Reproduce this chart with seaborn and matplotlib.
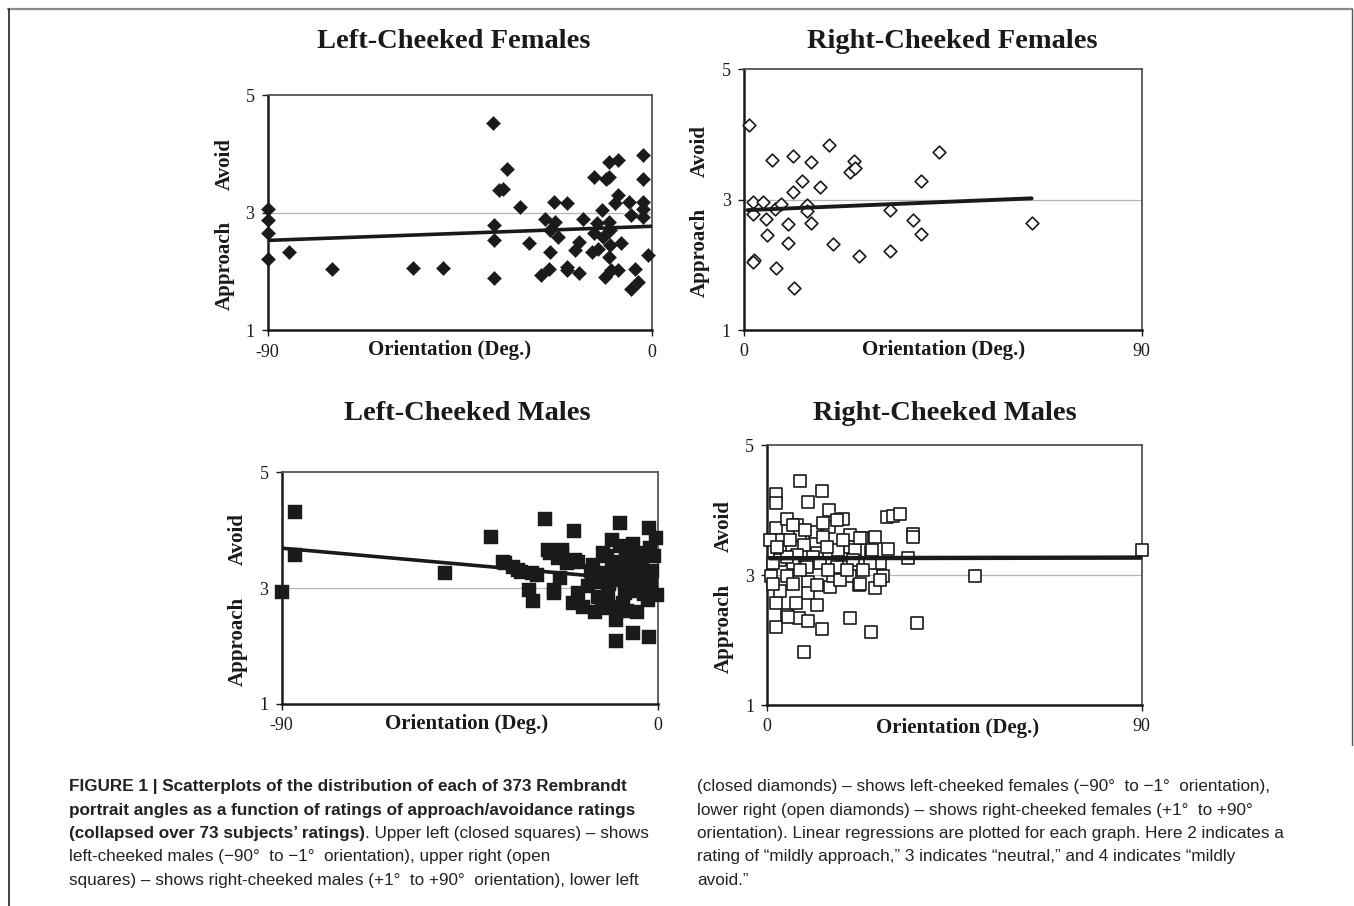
import numpy as np
import pandas as pd
import matplotlib
matplotlib.use("Agg")
import matplotlib.pyplot as plt
import seaborn as sns
from matplotlib.lines import Line2D
from matplotlib import font_manager

# ---------------- data ----------------
# Left-cheeked females (closed diamonds)
lf_x = [-90, -90, -90, -90, -85, -74.9, -55.9, -49, -37.1, -37, -37, -37, -34, -35.9, -34.8,
        -30.9, -28.75, -26, -25, -24, -23.8, -23, -22.6, -23.8, -21.9, -19.9, -19.9, -19.9,
        -18, -17, -17, -16, -13.6, -13.6, -14, -12.9, -12.5, -11.7, -11.3, -10.9, -10.1,
        -10.6, -9.9, -9.9, -10.1, -9.7, -9.7, -9.5, -8, -8, -8.6, -8, -7.2, -5.3, -4.9, -4.9,
        -4, -3.1, -2, -2, -2, -2, -2, -0.9]
lf_y = [3.07, 2.87, 2.66, 2.21, 2.33, 2.05, 2.06, 2.06, 4.53, 2.79, 2.54, 1.89, 3.75, 3.38, 3.41,
        3.10, 2.48, 1.95, 2.90, 2.05, 2.33, 3.18, 2.84, 2.70, 2.59, 3.16, 2.08, 2.02,
        2.36, 2.50, 1.98, 2.90, 3.61, 2.65, 2.33, 2.82, 2.39, 3.04, 2.59, 1.91, 3.87,
        3.58, 3.61, 2.84, 2.25, 2.45, 2.70, 2.02, 3.89, 3.30, 3.16, 2.02, 2.48, 3.18, 2.96, 1.71,
        2.05, 1.82, 3.98, 3.58, 3.18, 3.07, 2.93, 2.28]
lf_fit_x = [-90, 0]
lf_fit_y = [2.53, 2.77]

# Right-cheeked females (open diamonds)
rf_x = [1.1, 2.0, 2.1, 4.2, 2.3, 2.1, 5.0, 5.1, 6.3, 7.0, 7.2, 8.3, 10.0, 10.0, 11.2, 11.2, 11.3,
        13.2, 14.2, 14.2, 15.2, 15.2, 17.2, 19.2, 20.1, 24.0, 25.0, 25.1, 26.1, 33.0, 33.0,
        38.2, 40.0, 40.0, 44.2, 65.1]
rf_y = [4.14, 2.96, 2.78, 2.97, 2.07, 2.04, 2.71, 2.46, 3.61, 2.86, 1.96, 2.94, 2.62, 2.33, 3.67,
        3.11, 1.65, 3.29, 2.92, 2.82, 3.58, 2.65, 3.19, 3.83, 2.32, 3.43, 3.59, 3.48, 2.13,
        2.84, 2.21, 2.69, 3.29, 2.48, 3.73, 2.64]
rf_fit_x = [0.8, 65.1]
rf_fit_y = [2.84, 3.02]

# Left-cheeked males (closed squares)
lm_x = [-90, -86.8, -86.8, -51, -40.1, -37, -34.8, -32.7, -31, -30, -28.9, -27.1, -26, -25, -23.9,
        -23.1, -23.5, -21.9, -20.2, -20.3, -19.1, -19.1, -17.9, -16.7, -15.1, -15.5, -14.3, -13.1,
        -12.7, -11.9, -11.1, -10.8, -10.4, -10, -10.2, -9.2, -9.2, -8.8, -8, -7.6, -6.4, -6, -6.1,
        -5.6, -5.2, -4.6, -3.7, -2.9, -2.5, -2.3, -2.3, -2.1, -1.7, -0.6, -0.4,
        -16, -14, -12, -11, -9.5, -8.5, -7, -6.8, -5, -4, -3.5, -1.5, -1, -13.5, -12.2, -9.8,
        -7.5, -3, -15.8, -10.5, -36.7, -33.5, -30.3, -26.3, -23.1, -19.9, -25]
lm_y = [2.94, 4.32, 3.57, 3.26, 3.88, 3.46, 3.37, 3.28, 2.97, 2.77, 3.23, 4.19, 3.60, 2.92, 3.52,
        3.60, 3.17, 3.43, 3.98, 2.74, 3.46, 2.91, 2.68, 3.03, 2.59, 3.40, 2.85, 3.60,
        3.26, 3.08, 3.83, 3.37, 2.68, 2.45, 2.08, 4.12, 3.72, 3.14, 2.91, 3.54, 3.26, 3.77, 2.22,
        3.52, 2.59, 3.14, 3.26, 3.03, 2.80, 2.16, 4.03, 3.69, 3.08, 3.86, 2.88,
        3.3, 3.1, 2.9, 3.45, 3.3, 2.75, 3.0, 3.4, 2.95, 3.45, 2.9, 3.3, 3.55, 2.65, 3.55, 2.6,
        2.6, 3.6, 3.15, 3.2, 3.43, 3.31, 3.26, 3.66, 3.66, 3.49, 2.97]
lm_fit_x = [-90, 0]
lm_fit_y = [3.69, 3.11]

# Right-cheeked males (open squares)
rm_x = [0.88, 2.0, 2.0, 2.0, 2.0, 2.0, 3.05, 3.05, 4.81, 4.81, 4.81, 7.05, 6.89, 7.85, 7.85, 7.69,
        8.82, 8.82, 9.86, 9.86, 9.86, 9.86, 11.86, 11.86, 13.06, 13.06, 14.91, 14.91, 15.07, 15.87,
        18.11, 17.87, 19.88, 19.88, 19.88, 19.88, 22.04, 22.68, 24.84, 24.84, 25.89, 25.89, 27.09,
        27.89, 28.85, 29.09, 30.29, 31.89, 33.9, 34.94, 34.94, 35.9, 49.93, 90.0,
        5.05, 17.07, 21.08, 25.08, 6.25, 11.46, 16.67, 13.46, 3.05, 7.05, 11.06, 14.27, 18.27,
        22.28, 3.05, 6.25, 9.46, 12.66, 16.67, 20.68, 24.68, 1.44, 6.25, 11.86, 17.47, 22.28,
        27.09, 0.64, 1.44, 4.65, 7.85, 14.67, 19.07, 23.08, 2.24, 5.45, 9.06, 13.46]
rm_y = [2.98, 4.24, 4.11, 3.72, 2.57, 2.21, 3.39, 2.75, 3.86, 2.99, 2.39, 3.77, 2.57, 4.45, 3.62,
        2.34, 3.46, 1.82, 4.13, 2.90, 2.72, 2.29, 3.34, 2.54, 4.30, 2.17, 4.00, 3.74, 2.82, 2.98,
        3.86, 3.31, 3.62, 3.44, 2.99, 2.34, 2.85, 3.57, 3.36, 2.13, 3.59, 2.81, 3.18,
        2.99, 3.90, 3.40, 3.91, 3.94, 3.27, 3.63, 3.58, 2.26, 2.99, 3.38,
        2.36, 3.39, 3.39, 3.39, 3.77, 3.67, 3.85, 3.59, 3.54, 3.31, 3.28, 3.44, 3.54,
        3.57, 3.23, 3.18, 3.13, 3.18, 3.13, 3.23, 3.18, 2.87, 2.87, 2.85, 2.93, 2.87,
        2.93, 3.54, 3.18, 3.28, 3.08, 3.08, 3.08, 3.08, 3.44, 3.54, 3.69, 3.80]
rm_fit_x = [0.6, 90]
rm_fit_y = [3.26, 3.27]

titles = ["Left-Cheeked Females", "Right-Cheeked Females", "Left-Cheeked Males", "Right-Cheeked Males"]
x_label = "Orientation (Deg.)"
y_label_low = "Approach"
y_label_high = "Avoid"
y_ticks = [1, 3, 5]
x_ticks_left = [-90, 0]
x_ticks_right = [0, 90]

caption_left = [
    [("FIGURE 1 | Scatterplots of the distribution of each of 373 Rembrandt", "bold")],
    [("portrait angles as a function of ratings of approach/avoidance ratings", "bold")],
    [("(collapsed over 73 subjects\u2019 ratings)", "bold"), (". Upper left (closed squares) \u2013 shows", "normal")],
    [("left-cheeked males (\u221290\u00b0  to \u22121\u00b0  orientation), upper right (open", "normal")],
    [("squares) \u2013 shows right-cheeked males (+1\u00b0  to +90\u00b0  orientation), lower left", "normal")],
]
caption_right = [
    [("(closed diamonds) \u2013 shows left-cheeked females (\u221290\u00b0  to \u22121\u00b0  orientation),", "normal")],
    [("lower right (open diamonds) \u2013 shows right-cheeked females (+1\u00b0  to +90\u00b0", "normal")],
    [("orientation). Linear regressions are plotted for each graph. Here 2 indicates a", "normal")],
    [("rating of \u201cmildly approach,\u201d 3 indicates \u201cneutral,\u201d and 4 indicates \u201cmildly", "normal")],
    [("avoid.\u201d", "normal")],
]

# ---------------- styling / layout ----------------
W, H = 1354, 906
sns.set_theme(style="white")
plt.rcParams['font.family'] = ['Liberation Serif', 'DejaVu Serif']
plt.rcParams['axes.unicode_minus'] = False

avail = {f.name for f in font_manager.fontManager.ttflist}
cap_family = 'Liberation Sans Narrow' if 'Liberation Sans Narrow' in avail else 'Liberation Sans'
cap_size = 14.9 if cap_family == 'Liberation Sans Narrow' else 12.3

fig = plt.figure(figsize=(W / 100, H / 100), dpi=100)
fig.patch.set_facecolor('white')

def fx(px):
    return px / W

def fy(py):
    return 1 - py / H

INK = '#1a1a1a'

panels = [
    dict(x=lf_x, y=lf_y, fx_=lf_fit_x, fy_=lf_fit_y, box=(267.7, 95, 651.7, 330.5),
         xlim=(-90, 0), xt=x_ticks_left, marker='D', face=INK, s=52, lw=0.3,
         title=(454, 42), xlab=(450, 350), ylx=225, fitlw=2.6),
    dict(x=rf_x, y=rf_y, fx_=rf_fit_x, fy_=rf_fit_y, box=(744, 69, 1141.7, 330.3),
         xlim=(0, 90), xt=x_ticks_right, marker='D', face='white', s=42, lw=1.2,
         title=(952, 42), xlab=(944, 350), ylx=700, fitlw=2.8),
    dict(x=lm_x, y=lm_y, fx_=lm_fit_x, fy_=lm_fit_y, box=(281.7, 472.3, 658.3, 704),
         xlim=(-90, 0), xt=x_ticks_left, marker='s', face=INK, s=92, lw=0.3,
         title=(467, 414), xlab=(467, 724), ylx=238, fitlw=2.6),
    dict(x=rm_x, y=rm_y, fx_=rm_fit_x, fy_=rm_fit_y, box=(767.3, 445, 1141.7, 705.3),
         xlim=(0, 90), xt=x_ticks_right, marker='s', face='white', s=68, lw=1.2,
         title=(945, 414), xlab=(958, 728), ylx=724, fitlw=3.2),
]

for i, p in enumerate(panels):
    l, t, r, b = p['box']
    ax = fig.add_axes([fx(l), fy(b), (r - l) / W, (b - t) / H])
    ax.set_facecolor('white')
    ax.axhline(3, color='#b5b5b5', lw=0.9, zorder=0)
    df = pd.DataFrame({'x': p['x'], 'y': p['y']})
    sns.scatterplot(data=df, x='x', y='y', marker=p['marker'], s=p['s'], color=p['face'],
                    edgecolor=INK, linewidth=p['lw'], clip_on=False, ax=ax, zorder=3)
    fit = pd.DataFrame({'x': p['fx_'], 'y': p['fy_']})
    sns.lineplot(data=fit, x='x', y='y', color=INK, lw=p['fitlw'], ax=ax, zorder=4)
    ax.set_xlim(*p['xlim'])
    ax.set_ylim(1, 5)
    ax.set_xticks(p['xt'])
    ax.set_xticklabels([str(v) for v in p['xt']])
    ax.set_yticks(y_ticks)
    ax.set_yticklabels([str(v) for v in y_ticks])
    ax.set_xlabel('')
    ax.set_ylabel('')
    ax.grid(False)
    ax.tick_params(axis='both', direction='out', length=4.5, width=1, color=INK,
                   labelsize=13, labelcolor=INK)
    ax.tick_params(axis='y', pad=5, left=True)
    ax.tick_params(axis='x', pad=5, bottom=True)
    for side in ['left', 'bottom']:
        ax.spines[side].set_color(INK)
        ax.spines[side].set_linewidth(1.8)
    for side in ['top', 'right']:
        ax.spines[side].set_color('#555555')
        ax.spines[side].set_linewidth(1.3)
        ax.spines[side].set_visible(True)

    # titles and axis labels
    fig.text(fx(p['title'][0]), fy(p['title'][1]), titles[i], ha='center', va='center',
             fontsize=20.5, fontweight='bold', color=INK)
    fig.text(fx(p['xlab'][0]), fy(p['xlab'][1]), x_label, ha='center', va='center',
             fontsize=15, fontweight='bold', color=INK)
    cy = (t + b) / 2
    fig.text(fx(p['ylx']), fy(cy + 53), y_label_low, ha='center', va='center', rotation=90,
             fontsize=15, fontweight='bold', color=INK)
    fig.text(fx(p['ylx']), fy(cy - 49), y_label_high, ha='center', va='center', rotation=90,
             fontsize=15, fontweight='bold', color=INK)

# figure frame lines
fig.add_artist(Line2D([fx(8), fx(1352)], [fy(8.5), fy(8.5)], color='#8a8a8a', lw=1.6))
fig.add_artist(Line2D([fx(8.5), fx(8.5)], [fy(9), fy(906)], color='#222222', lw=1.2))
fig.add_artist(Line2D([fx(1351.5), fx(1351.5)], [fy(9), fy(745)], color='#555555', lw=1.0))

# caption
renderer = fig.canvas.get_renderer()

def draw_caption(x0, lines, y0=787, step=23.3):
    for k, segs in enumerate(lines):
        x = x0
        for text, weight in segs:
            tt = fig.text(fx(x), fy(y0 + k * step), text, ha='left', va='center',
                          fontsize=cap_size, fontweight=weight, family=[cap_family, 'DejaVu Sans'],
                          color='#222222')
            bb = tt.get_window_extent(renderer)
            x = bb.x1

draw_caption(69, caption_left)
draw_caption(697, caption_right)

fig.savefig("out.png", dpi=100, facecolor='white')
